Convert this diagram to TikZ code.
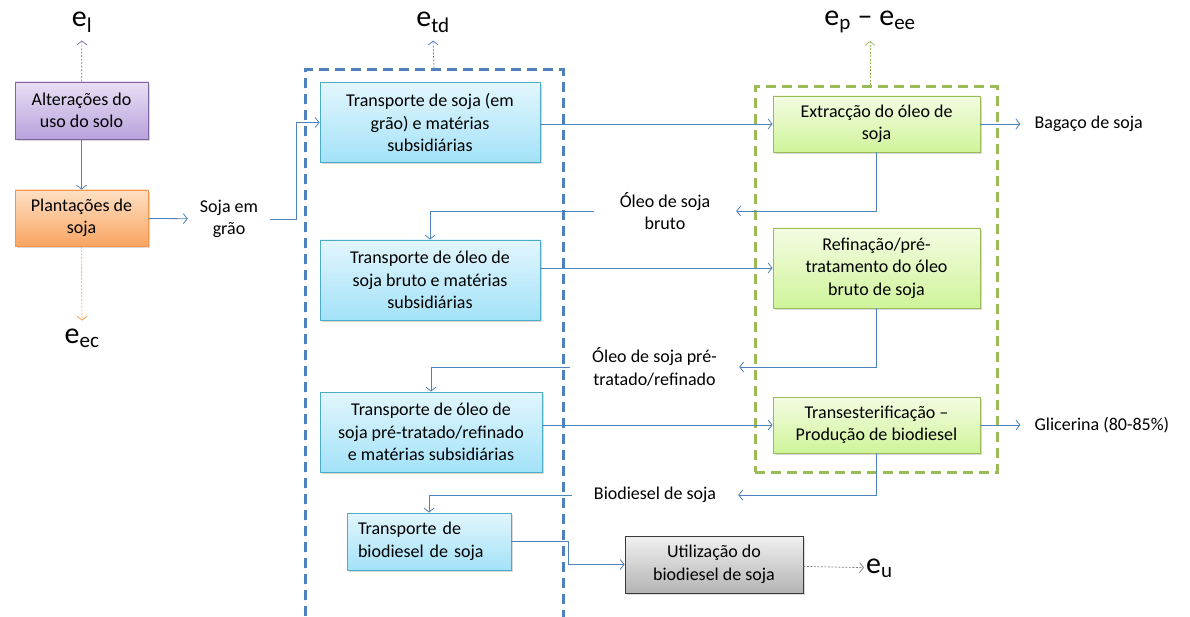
\documentclass[tikz,border=0pt]{standalone}
\usepackage{fontspec}
\setmainfont{Carlito}
\usepackage{xcolor}
\definecolor{FLOWCOLOR}{HTML}{4F81BD}
\definecolor{LANDTOP}{HTML}{E8DFF5}
\definecolor{LANDBOTTOM}{HTML}{B8A2DC}
\definecolor{LANDLINE}{HTML}{8064A2}
\definecolor{FARMTOP}{HTML}{FDE0C4}
\definecolor{FARMBOTTOM}{HTML}{F9A562}
\definecolor{FARMLINE}{HTML}{F79646}
\definecolor{TRANSTOP}{HTML}{E2F6FD}
\definecolor{TRANSBOTTOM}{HTML}{A3E2F8}
\definecolor{TRANSLINE}{HTML}{4BACC6}
\definecolor{PROCTOP}{HTML}{F4FCE2}
\definecolor{PROCBOTTOM}{HTML}{CFF49A}
\definecolor{PROCLINE}{HTML}{9BBB59}
\definecolor{USETOP}{HTML}{F0F0F0}
\definecolor{USEBOTTOM}{HTML}{B4B4B4}
\definecolor{USELINE}{HTML}{3A3A3A}
\usepackage{tikz}
\usetikzlibrary{arrows.meta,shadows,positioning}
\newcommand\boxFont{\fontsize{18}{22.5}\selectfont}
\newcommand\emissionName[1]{e\textsubscript{#1}}
\tikzset{
  basic-style/.style = {
    rectangle, draw, line width=0.8pt,
    top color=#1TOP, bottom color=#1BOTTOM, draw=#1LINE,
    drop shadow={shadow xshift=1.5pt, shadow yshift=-2pt, opacity=0.3},
    align=center, font=\boxFont, inner sep=2pt
  },
  land-style/.style = {basic-style=LAND},
  farm-style/.style = {basic-style=FARM},
  trans-style/.style = {basic-style=TRANS},
  proc-style/.style = {basic-style=PROC},
  use-style/.style = {basic-style=USE},
  size/.style 2 args = {minimum width=#1, minimum height=#2},
  frame-style/.style = {
    rectangle, draw=#1, line width=3pt, dash pattern=on 10pt off 6pt
  },
  flow-label/.style = {
    align=center, font=\boxFont, inner sep=0pt, minimum width=#1
  },
  out-label/.style = {font=\boxFont, inner xsep=14pt, anchor=west},
  emission-style/.style = {font=\fontsize{30}{32}\selectfont, inner xsep=2pt, inner ysep=8pt},
  flow/.style = {draw=FLOWCOLOR, line width=0.8pt, ->},
  emission-flow/.style = {draw=#1, line width=0.7pt, ->, dash pattern=on 2pt off 1.5pt},
  >={Straight Barb[length=4pt,width=10pt]}
}

\begin{document}
\begin{tikzpicture}[x=1pt,y=-1pt]
  \useasboundingbox (0,0) rectangle (1190,617);

  % frames of the two stages (the transport frame runs off the page)
  \node[frame-style=FLOWCOLOR, size={258pt}{564pt}] (tdframe) at (434,352) {};
  \node[frame-style=PROCLINE, size={242pt}{385pt}] (procframe) at (876,279.5) {};

  % cultivation
  \node[land-style, size={133pt}{57pt}] (solo) at (81.5,110.5) {Alterações do\\uso do solo};
  \node[farm-style, size={133pt}{56pt}] (plant) at (81.5,218) {Plantações de\\soja};
  \node[flow-label=82pt] (soja) at (229,219) {Soja em\\grão};

  % transport
  \node[trans-style, size={220pt}{80pt}] (tr1) at (430,122.5) {Transporte de soja (em\\grão) e matérias\\subsidiárias};
  \node[trans-style, size={220pt}{80pt}] (tr2) at (430,280) {Transporte de óleo de\\soja bruto e matérias\\subsidiárias};
  \node[trans-style, size={222pt}{80pt}] (tr3) at (431,432) {Transporte de óleo de\\soja pré-tratado/refinado\\e matérias subsidiárias};
  \node[trans-style, minimum height=57pt, text width=142pt, inner xsep=11pt, align=left] (tr4) at (429,541.5) {Transporte de\\biodiesel de soja};

  % processing
  \node[proc-style, size={207pt}{56pt}] (ext) at (876.5,124) {Extracção do óleo de\\soja};
  \node[proc-style, size={207pt}{80pt}] (ref) at (876.5,268) {Refinação/pré-\\tratamento do óleo\\bruto de soja};
  \node[proc-style, size={207pt}{56pt}] (trans) at (876.5,425) {Transesterificação –\\Produção de biodiesel};
  \node[use-style, size={178pt}{57pt}] (util) at (714,564.5) {Utilização do\\biodiesel de soja};

  % products between the stages
  \node[flow-label=142pt] (oleobruto) at (665,211) {Óleo de soja\\bruto};
  \node[flow-label=169pt] (oleorefinado) at (654.5,367) {Óleo de soja pré-\\tratado/refinado};
  \node[flow-label=166pt] (biodiesel) at (655,495) {Biodiesel de soja};
  \node[out-label, right=40pt of ext] (bagaco) {Bagaço de soja};
  \node[out-label, right=40pt of trans] (glicerina) {Glicerina (80-85\%)};

  % emissions
  \node[emission-style] (el) at (82,22) {\emissionName{l}};
  \node[emission-style] (eec) at (82,338) {\emissionName{ec}};
  \node[emission-style] (etd) at (433,22) {\emissionName{td}};
  \node[emission-style] (epee) at (870,22) {\emissionName{p} -- \emissionName{ee}};
  \node[emission-style, anchor=west] (eu) at (864,568) {\emissionName{u}};

  \draw[flow] (solo) -- (plant);
  \draw[flow] (plant) -- (soja);
  \draw[flow] (soja.east) -- ++(26,0) |- (tr1.west);
  \draw[flow] (tr1.east |- ext.west) -- (ext.west);
  \draw[flow] (ext.south) |- (oleobruto.east);
  \draw[flow] (oleobruto.west) -| (tr2.north);
  \draw[flow] (tr2.east |- ref.west) -- (ref.west);
  \draw[flow] (ref.south) |- (oleorefinado.east);
  \draw[flow] (oleorefinado.west) -| (tr3.north);
  \draw[flow] (tr3.east |- trans.west) -- (trans.west);
  \draw[flow] (trans.south) |- (biodiesel.east);
  \draw[flow] (biodiesel.west) -| (tr4.north);
  \draw[flow] (tr4.east) -- ++(57,0) |- (util.west);
  \draw[flow] (ext.east) -- (bagaco.west);
  \draw[flow] (trans.east) -- (glicerina.west);

  \draw[emission-flow=LANDLINE] (solo) -- (el);
  \draw[emission-flow=FARMLINE] (plant) -- (eec);
  \draw[emission-flow=FLOWCOLOR] (tdframe.north) -- (etd.south);
  \draw[emission-flow=PROCLINE] (procframe.north -| epee.south) -- (epee.south);
  \draw[emission-flow=gray] (util) -- (eu);
\end{tikzpicture}
\end{document}
